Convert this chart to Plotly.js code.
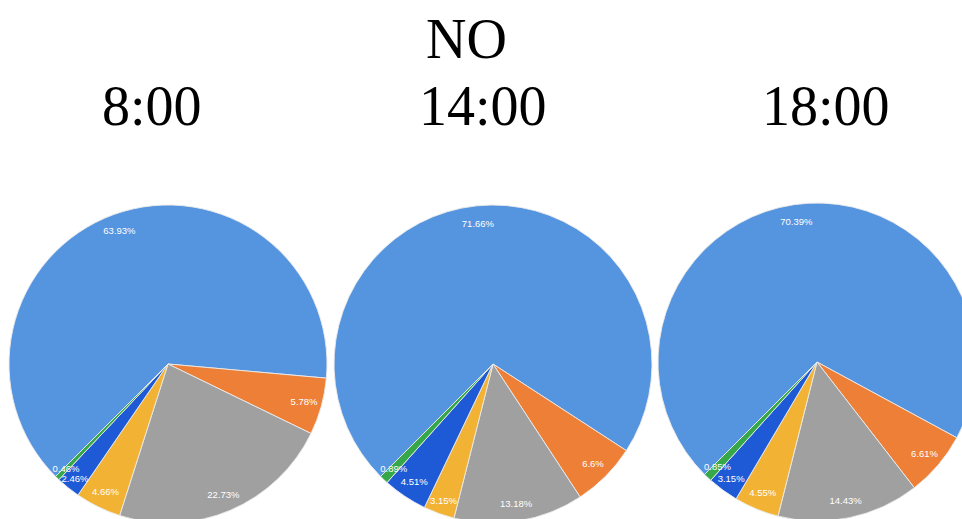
<!DOCTYPE html>
<html>
<head>
<meta charset="utf-8">
<script src="https://cdn.plot.ly/plotly-3.0.1.min.js"></script>
<style>
html, body { margin: 0; padding: 0; background: #ffffff; overflow: hidden; width: 962px; height: 519px; }
#chart { width: 1000px; height: 540px; }
</style>
</head>
<body>
<div id="chart"></div>
<script>
// Data (percent shares, order = clockwise slice order)
const sliceNames = ["Blue", "Orange", "Gray", "Yellow", "Dark blue", "Green"];
const values800  = [63.93, 5.78, 22.73, 4.66, 2.46, 0.46];
const values1400 = [71.66, 6.6, 13.18, 3.15, 4.51, 0.89];
const values1800 = [70.39, 6.61, 14.43, 4.55, 3.15, 0.85];
const panelTitles = ["8:00", "14:00", "18:00"];
const mainTitle = "NO";

const sliceColors = ["#5594DE", "#EE7F36", "#A0A0A0", "#F2B233", "#1F5AD6", "#36A84A"];

const W = 1000, H = 540;
// pie boxes in pixels (centre x, centre y, radius) -> domains
function dom(cx, cy, r) {
  return { x: [(cx - r) / W, (cx + r) / W], y: [1 - (cy + r) / H, 1 - (cy - r) / H] };
}
const centres = [[168, 364], [493, 364], [817, 362]];
const allValues = [values800, values1400, values1800];
const labelFont = { color: "#ffffff", size: 9.5, family: "Liberation Sans, Arial, sans-serif" };

const traces = [];
allValues.forEach((vals, i) => {
  const [cx, cy] = centres[i];
  const common = {
    type: "pie",
    labels: sliceNames,
    values: vals,
    sort: false,
    direction: "clockwise",
    rotation: 225,
    showlegend: false
  };
  // filled pie
  traces.push(Object.assign({}, common, {
    domain: dom(cx, cy, 159),
    marker: { colors: sliceColors, line: { color: "rgba(235,235,235,0.9)", width: 1 } },
    textinfo: "none",
    hoverinfo: "label+value"
  }));
  // labels near the outer edge (transparent ring)
  traces.push(Object.assign({}, common, {
    domain: dom(cx, cy, 159),
    hole: 0.78,
    marker: { colors: sliceColors.map(() => "rgba(0,0,0,0)"), line: { width: 0 } },
    texttemplate: "%{value}%",
    textposition: sliceNames.map((n, k) => (k === sliceNames.length - 1 ? "none" : "inside")),
    insidetextorientation: "horizontal",
    insidetextfont: labelFont,
    hoverinfo: "skip"
  }));
  // label of the thinnest slice, pulled slightly inward
  traces.push(Object.assign({}, common, {
    domain: dom(cx, cy, 148),
    hole: 0.78,
    marker: { colors: sliceColors.map(() => "rgba(0,0,0,0)"), line: { width: 0 } },
    texttemplate: "%{value}%",
    textposition: sliceNames.map((n, k) => (k === sliceNames.length - 1 ? "inside" : "none")),
    insidetextorientation: "horizontal",
    insidetextfont: labelFont,
    hoverinfo: "skip"
  }));
});

const titleFont = { family: "Liberation Serif, Times New Roman, serif", size: 56, color: "#000000" };
const annotations = [
  { text: mainTitle, x: 466 / W, y: 1 - 39 / H },
  { text: panelTitles[0], x: 152 / W, y: 1 - 106 / H },
  { text: panelTitles[1], x: 483 / W, y: 1 - 106 / H },
  { text: panelTitles[2], x: 826 / W, y: 1 - 106 / H }
].map(a => Object.assign({ xref: "paper", yref: "paper", xanchor: "center", yanchor: "middle", showarrow: false, font: titleFont }, a));

const layout = {
  width: W,
  height: H,
  margin: { l: 0, r: 0, t: 0, b: 0 },
  paper_bgcolor: "#ffffff",
  showlegend: false,
  uniformtext: { mode: "show", minsize: 9.5 },
  annotations: annotations
};

Plotly.newPlot("chart", traces, layout, { displayModeBar: false, staticPlot: true });
</script>
</body>
</html>
